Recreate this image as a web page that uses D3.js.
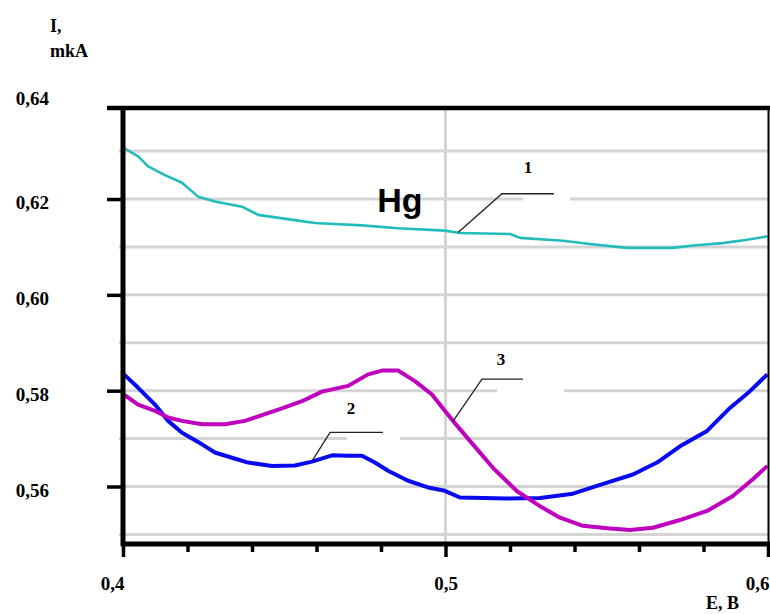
<!DOCTYPE html>
<html>
<head>
<meta charset="utf-8">
<script src="https://cdn.jsdelivr.net/npm/d3@7"></script>
<style>
  body { margin: 0; background: #fff; }
  svg { display: block; }
</style>
</head>
<body>
<svg id="chart" width="770" height="614"></svg>
<script>
// curve 1 (cyan)
const e1 = [0.4003, 0.4047, 0.4078, 0.413, 0.4183, 0.4233, 0.4285, 0.4369, 0.4419, 0.4543, 0.4595, 0.4741, 0.4853,
            0.4998, 0.5045, 0.52, 0.5231, 0.5364, 0.5448, 0.5563, 0.5705, 0.5767, 0.586, 0.5935, 0.5998]
const i1 = [0.6306, 0.6289, 0.6268, 0.625, 0.6234, 0.6205, 0.6195, 0.6184, 0.6167, 0.6155, 0.615, 0.6145, 0.6139,
            0.6134, 0.6129, 0.6127, 0.6119, 0.6113, 0.6106, 0.6098, 0.6098, 0.6103, 0.6108, 0.6115, 0.6122]
// curve 2 (blue)
const e2 = [0.4003, 0.4047, 0.4099, 0.414, 0.4183, 0.4245, 0.4285, 0.4338, 0.4388, 0.4462, 0.4533, 0.4586, 0.4648,
            0.4698, 0.4741, 0.4781, 0.4822, 0.4884, 0.4946, 0.4998, 0.5045, 0.5191, 0.5293, 0.5395, 0.5501, 0.5581,
            0.5656, 0.5727, 0.5811, 0.5882, 0.5944, 0.5998]
const i2 = [0.5834, 0.5806, 0.5771, 0.5737, 0.5712, 0.5688, 0.5671, 0.566, 0.565, 0.5643, 0.5644, 0.5652, 0.5665,
            0.5664, 0.5664, 0.565, 0.5633, 0.5612, 0.5598, 0.5591, 0.5577, 0.5575, 0.5576, 0.5585, 0.5608, 0.5625,
            0.565, 0.5684, 0.5716, 0.5764, 0.5799, 0.5834]
// curve 3 (magenta)
const e3 = [0.4003, 0.4047, 0.4099, 0.414, 0.4183, 0.4245, 0.4316, 0.4378, 0.4431, 0.4493, 0.4555, 0.4617, 0.4698,
            0.476, 0.4803, 0.4853, 0.4905, 0.4958, 0.4998, 0.5023, 0.5085, 0.5147, 0.5222, 0.5293, 0.5355, 0.5426,
            0.5501, 0.5572, 0.5643, 0.5727, 0.5811, 0.5891, 0.5953, 0.5998]
const i3 = [0.5792, 0.5771, 0.5758, 0.5744, 0.5737, 0.573, 0.573, 0.5737, 0.5749, 0.5763, 0.5778, 0.5798, 0.581,
            0.5834, 0.5842, 0.5842, 0.582, 0.5792, 0.5758, 0.5737, 0.5688, 0.5639, 0.559, 0.5559, 0.5535, 0.5518,
            0.5513, 0.5509, 0.5514, 0.553, 0.5549, 0.558, 0.5615, 0.5643]

const xTicks = [0.40, 0.42, 0.44, 0.46, 0.48, 0.50, 0.52, 0.54, 0.56, 0.58, 0.60]
const xLabelTicks = [0.4, 0.5, 0.6]
const yTicks = [0.56, 0.58, 0.60, 0.62, 0.64]
const gridI = [0.55, 0.56, 0.57, 0.58, 0.59, 0.60, 0.61, 0.62, 0.63]
const gridE = [0.5]

// curve numbers with leader lines, in data units
const labelNames = ["1", "2", "3"]
const labelE = [0.5256, 0.4707, 0.5172]
const labelI = [0.6255, 0.5751, 0.5853]
const leaderE = [[0.5039, 0.5175, 0.5336], [0.4586, 0.4642, 0.4806], [0.5023, 0.5113, 0.524]]
const leaderI = [[0.613, 0.6211, 0.6211], [0.5653, 0.5713, 0.5713], [0.5736, 0.5824, 0.5824]]
// breaks in grid lines left by the label boxes
const gapI = [0.62, 0.57, 0.58]
const gapE = [[0.524, 0.5386], [0.4695, 0.4859], [0.516, 0.5367]]

const svg = d3.select("#chart")
const serif = "'Liberation Serif', 'Times New Roman', serif"

const x = d3.scaleLinear().domain([0.4, 0.6]).range([123, 768])
const y = d3.scaleLinear().domain([0.548, 0.639]).range([544, 108])
const [x0, x1] = x.range()
const [yb, yt] = y.range()

// grid
svg.append("g")
    .attr("stroke", "#d4d4d4")
    .attr("stroke-width", 3)
    .selectAll("line")
    .data(gridI)
    .join("line")
    .attr("x1", x0 - 4).attr("x2", x1)
    .attr("y1", d => y(d)).attr("y2", d => y(d))

svg.append("g")
    .attr("stroke", "#d4d4d4")
    .attr("stroke-width", 3)
    .selectAll("line")
    .data(gridE)
    .join("line")
    .attr("x1", d => x(d)).attr("x2", d => x(d))
    .attr("y1", yt).attr("y2", yb)

svg.append("g")
    .attr("fill", "#fff")
    .selectAll("rect")
    .data(gapI)
    .join("rect")
    .attr("x", (d, i) => x(gapE[i][0]))
    .attr("width", (d, i) => x(gapE[i][1]) - x(gapE[i][0]))
    .attr("y", d => y(d) - 3)
    .attr("height", 6)

// curves
const series = [
    {e: e1, v: i1, color: "#22bcbc", w: 2.6},
    {e: e2, v: i2, color: "#0a0af0", w: 4},
    {e: e3, v: i3, color: "#bf00bf", w: 4}
]
const line = d3.line().x(d => x(d[0])).y(d => y(d[1]))

svg.append("g")
    .attr("fill", "none")
    .attr("stroke-linejoin", "round")
    .selectAll("path")
    .data(series)
    .join("path")
    .attr("stroke", d => d.color)
    .attr("stroke-width", d => d.w)
    .attr("d", d => line(d.e.map((e, k) => [e, d.v[k]])))

// leaders and numbers
svg.append("g")
    .attr("fill", "none")
    .attr("stroke", "#222")
    .attr("stroke-width", 1.3)
    .selectAll("path")
    .data(leaderE)
    .join("path")
    .attr("d", (d, i) => line(d.map((e, k) => [e, leaderI[i][k]])))

svg.append("g")
    .attr("font-family", serif)
    .attr("font-weight", "bold")
    .attr("font-size", 17)
    .attr("text-anchor", "middle")
    .selectAll("text")
    .data(labelNames)
    .join("text")
    .attr("x", (d, i) => x(labelE[i]))
    .attr("y", (d, i) => y(labelI[i]))
    .text(d => d)

svg.append("text")
    .attr("x", x(0.4788))
    .attr("y", y(0.6173))
    .attr("font-family", "'Liberation Sans', Arial, sans-serif")
    .attr("font-weight", "bold")
    .attr("font-size", 34)
    .text("Hg")

// frame
const frame = svg.append("g").attr("stroke", "#000")
frame.append("line").attr("x1", x0 - 16).attr("x2", 770).attr("y1", yt).attr("y2", yt).attr("stroke-width", 4.5)
frame.append("line").attr("x1", x0).attr("x2", x0).attr("y1", yt - 2).attr("y2", yb + 2).attr("stroke-width", 5)
frame.append("line").attr("x1", x0 - 2).attr("x2", 770).attr("y1", yb).attr("y2", yb).attr("stroke-width", 5)
frame.append("line").attr("x1", x1 + 0.5).attr("x2", x1 + 0.5).attr("y1", yt).attr("y2", yb).attr("stroke-width", 2)

const fmt = d => d.toFixed(xLabelTicks.includes(d) ? 1 : 2).replace(".", ",")

// y axis
const yAxis = g => g
    .attr("transform", `translate(${x0},0)`)
    .call(d3.axisLeft(y).tickValues(yTicks).tickSize(16).tickPadding(58).tickFormat(d => d.toFixed(2).replace(".", ",")))
    .call(g => g.select(".domain").remove())
    .call(g => g.selectAll(".tick line").attr("stroke-width", 3.5).attr("stroke", d => d === 0.64 ? "none" : "#000"))
    .call(g => g.selectAll(".tick text").attr("dy", d => d === 0.64 ? "0.05em" : "0.5em"))
    .attr("font-family", serif)
    .attr("font-weight", "bold")
    .attr("font-size", 19)
    .attr("fill", "#000")

// x axis
const xAxis = g => g
    .attr("transform", `translate(0,${yb})`)
    .call(d3.axisBottom(x).tickValues(xTicks).tickSize(8)
        .tickFormat(d => xLabelTicks.some(v => Math.abs(v - d) < 1e-9) ? d.toFixed(1).replace(".", ",") : ""))
    .call(g => g.select(".domain").remove())
    .call(g => g.selectAll(".tick line").attr("stroke-width", 3.5)
        .attr("y2", d => xLabelTicks.some(v => Math.abs(v - d) < 1e-9) ? 13 : 8))
    .call(g => g.selectAll(".tick text").attr("y", 46).attr("dy", 0)
        .attr("text-anchor", d => Math.abs(d - 0.5) < 1e-9 ? "middle" : "end")
        .attr("dx", d => Math.abs(d - 0.5) < 1e-9 ? 0 : 1))
    .attr("font-family", serif)
    .attr("font-weight", "bold")
    .attr("font-size", 19)

svg.append("g").call(yAxis)
svg.append("g").call(xAxis)

// axis titles
const titles = svg.append("g")
    .attr("font-family", serif)
    .attr("font-weight", "bold")
    .attr("font-size", 18)
titles.append("text").attr("x", 50).attr("y", 32).text("I,")
titles.append("text").attr("x", 50).attr("y", 57).text("mkA")
titles.append("text").attr("x", 706).attr("y", 609).text("E, B")
</script>
</body>
</html>
